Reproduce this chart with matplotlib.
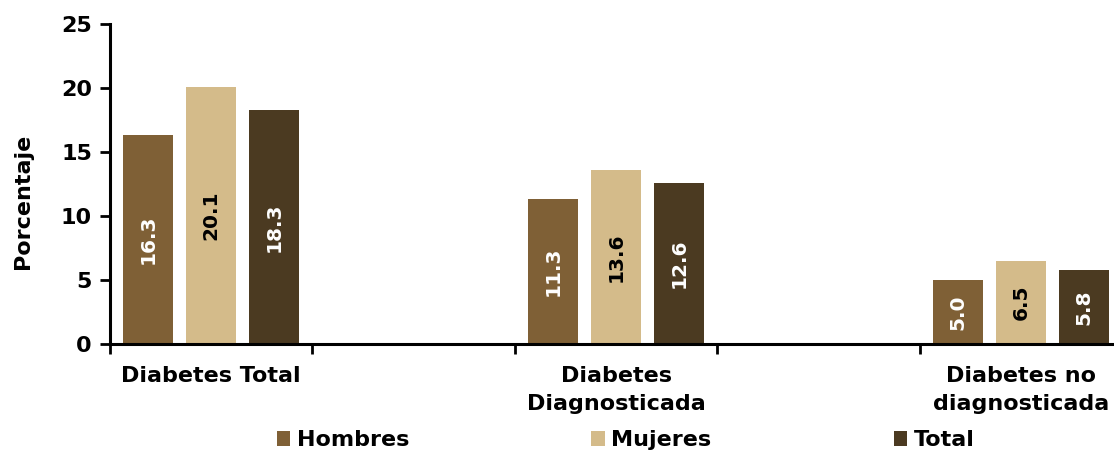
import matplotlib
matplotlib.use('Agg')

import numpy as np
import matplotlib.pyplot as plt
from matplotlib.patches import Patch

# Data
categories = ['Diabetes Total', 'Diabetes\nDiagnosticada', 'Diabetes no\ndiagnosticada']
series_names = ['Hombres', 'Mujeres', 'Total']
hombres = [16.3, 11.3, 5.0]
mujeres = [20.1, 13.6, 6.5]
total = [18.3, 12.6, 5.8]

COLORS = ['#7F6036', '#D4BB8A', '#4B3A21']
LABEL_COLORS = ['white', 'black', 'white']

plt.rcParams['font.family'] = ['DejaVu Sans']
plt.rcParams['font.weight'] = 'bold'

fig = plt.figure(figsize=(11.14, 4.54), dpi=100)
ax = fig.add_axes([0.0987, 0.2423, 0.9013, 0.7048])

# categories sit on every other slot, blank slots between them
xpos = np.arange(len(categories)) * 2
width = 0.247
offsets = [-0.31, 0.0, 0.31]

for vals, off, col, lcol, name in zip([hombres, mujeres, total], offsets,
                                      COLORS, LABEL_COLORS, series_names):
    bars = ax.bar(xpos + off, vals, width=width, color=col, label=name, zorder=2)
    for b, v in zip(bars, vals):
        ax.text(b.get_x() + b.get_width() / 2, v / 2, f'{v:.1f}',
                rotation=90, ha='center', va='center', color=lcol,
                fontsize=14.5, fontweight='bold')

ax.set_xlim(-0.5, 4.46)
ax.set_ylim(0, 25)
ax.set_yticks([0, 5, 10, 15, 20, 25])
ax.set_xticks(xpos)
ax.set_xticklabels(categories, fontsize=16, fontweight='bold', linespacing=1.5)
ax.set_xticks(np.arange(-0.5, 4.0, 1.0), minor=True)
ax.tick_params(axis='x', which='major', length=0, pad=16)
ax.tick_params(axis='x', which='minor', length=7, width=2, color='black')
ax.tick_params(axis='y', length=7, width=2, labelsize=16, pad=6)
for lab in ax.get_yticklabels():
    lab.set_fontweight('bold')

ax.spines['top'].set_visible(False)
ax.spines['right'].set_visible(False)
ax.spines['left'].set_linewidth(2.2)
ax.spines['bottom'].set_linewidth(2.2)

ax.set_ylabel('Porcentaje', fontsize=16, fontweight='bold')
ax.yaxis.set_label_coords(-0.077, 0.447)

handles = [Patch(facecolor=c) for c in COLORS]
fig.legend(handles, series_names, ncol=3, loc='center',
           bbox_to_anchor=(0.5615, 0.03), frameon=False,
           prop={'size': 16, 'weight': 'bold'},
           handlelength=0.6, handleheight=0.6, handletextpad=0.3,
           columnspacing=8.2, borderpad=0)

fig.savefig('out.png', dpi=100)
